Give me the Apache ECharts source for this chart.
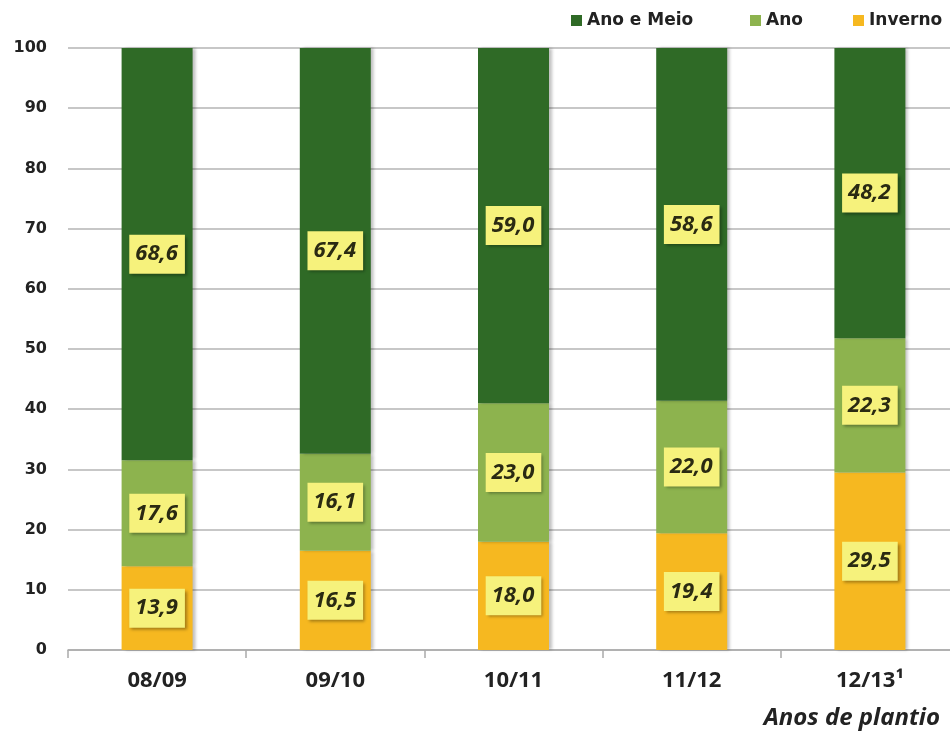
<!DOCTYPE html>
<html><head><meta charset="utf-8">
<script src="https://cdn.jsdelivr.net/npm/echarts@6/dist/echarts.min.js"></script>
<style>html,body{margin:0;padding:0;background:#fff}#c{width:950px;height:733px}</style>
</head><body><div id="c"></div>
<script>
var categories = ['08/09', '09/10', '10/11', '11/12', '12/13\u00b9'];
var inverno = [13.9, 16.5, 18.0, 19.4, 29.5];
var ano = [17.6, 16.1, 23.0, 22.0, 22.3];
var anoEMeio = [68.6, 67.4, 59.0, 58.6, 48.2];
var yTicks = [0, 10, 20, 30, 40, 50, 60, 70, 80, 90, 100];
var legendNames = ['Ano e Meio', 'Ano', 'Inverno'];

var chart = echarts.init(document.getElementById('c'), null, {renderer: 'canvas'});
function lbl() {
  return {
    show: true, position: 'inside',
    formatter: function (p) { return p.value.toFixed(1).replace('.', ','); },
    fontFamily: 'Open Sans', fontWeight: 'bold', fontStyle: 'italic', fontSize: 22,
    color: '#2a2a12', backgroundColor: '#f6f27c',
    padding: [9, 7, 8, 6],
    shadowColor: 'rgba(0,0,0,0.35)', shadowBlur: 3, shadowOffsetX: 2, shadowOffsetY: 2
  };
}
var barStyle = function (c) {
  return { color: c, shadowColor: 'rgba(0,0,0,0.25)', shadowBlur: 3, shadowOffsetX: 3, shadowOffsetY: 0 };
};
var legendLefts = [571, 750, 853];
var legends = legendNames.map(function (n, i) {
  return {
    left: legendLefts[i], top: 12, itemWidth: 11, itemHeight: 11, padding: 0,
    icon: 'rect',
    textStyle: { fontFamily: 'DejaVu Sans', fontWeight: 'bold', fontSize: 17, color: '#222' },
    data: [n]
  };
});
chart.setOption({
  animation: false,
  legend: legends,
  grid: { left: 68, top: 48, width: 891, height: 602, containLabel: false, outerBoundsMode: 'none' },
  xAxis: {
    type: 'category', data: categories,
    name: 'Anos de plantio', nameLocation: 'end',
    nameTextStyle: { fontFamily: 'Open Sans', fontWeight: 'bold', fontStyle: 'italic', fontSize: 24, color: '#222',
      verticalAlign: 'top', align: 'right', padding: [56, 17, 0, 0] },
    nameGap: -2,
    axisLine: { lineStyle: { color: '#aaa', width: 1.5 } },
    axisTick: { show: true, length: 8, lineStyle: { color: '#aaa', width: 1.5 } },
    axisLabel: { fontFamily: 'Open Sans', fontWeight: 'bold', fontSize: 22, color: '#222', margin: 20 }
  },
  yAxis: {
    type: 'value', min: 0, max: 100, interval: 10,
    axisLine: { show: false }, axisTick: { show: false },
    axisLabel: { fontFamily: 'DejaVu Sans', fontWeight: 'bold', fontSize: 16, color: '#222', margin: 21,
      formatter: function (v) { return yTicks.indexOf(v) >= 0 ? String(v) : ''; } },
    splitLine: { lineStyle: { color: '#b5b5b5', width: 1.5 } }
  },
  series: [
    { name: 'Inverno', type: 'bar', stack: 's', barWidth: 71, data: inverno, itemStyle: barStyle('#f6b820'), label: lbl() },
    { name: 'Ano', type: 'bar', stack: 's', barWidth: 71, data: ano, itemStyle: barStyle('#8db34e'), label: lbl() },
    { name: 'Ano e Meio', type: 'bar', stack: 's', barWidth: 71, data: anoEMeio, itemStyle: barStyle('#2f6a26'), label: lbl() }
  ]
});
</script></body></html>
